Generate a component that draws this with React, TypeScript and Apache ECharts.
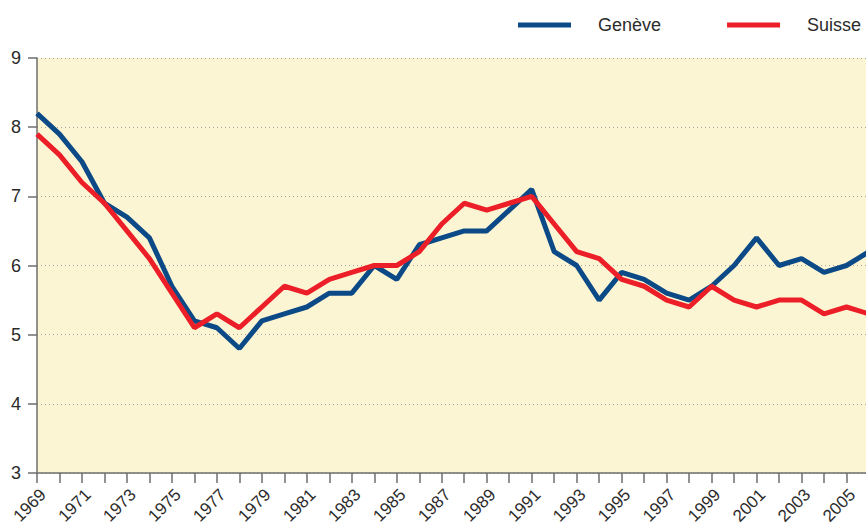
import React, { useEffect, useRef } from "react";
import * as echarts from "echarts";

const years: string[] = [];
for (let y = 1969; y <= 2006; y++) years.push(String(y));

const geneve = [
  8.2, 7.9, 7.5, 6.9, 6.7, 6.4, 5.7, 5.2, 5.1, 4.8,
  5.2, 5.3, 5.4, 5.6, 5.6, 6.0, 5.8, 6.3, 6.4, 6.5,
  6.5, 6.8, 7.1, 6.2, 6.0, 5.5, 5.9, 5.8, 5.6, 5.5,
  5.7, 6.0, 6.4, 6.0, 6.1, 5.9, 6.0, 6.2,
];
const suisse = [
  7.9, 7.6, 7.2, 6.9, 6.5, 6.1, 5.6, 5.1, 5.3, 5.1,
  5.4, 5.7, 5.6, 5.8, 5.9, 6.0, 6.0, 6.2, 6.6, 6.9,
  6.8, 6.9, 7.0, 6.6, 6.2, 6.1, 5.8, 5.7, 5.5, 5.4,
  5.7, 5.5, 5.4, 5.5, 5.5, 5.3, 5.4, 5.3,
];
const seriesNames = ["Genève", "Suisse"];
const colors = ["#0b4a87", "#ec1f28"];

const FONT = "'Liberation Sans', Arial, sans-serif";

export default function App() {
  const ref = useRef<HTMLDivElement>(null);
  useEffect(() => {
    if (!ref.current) return;
    const chart = echarts.init(ref.current, undefined, { renderer: "svg" });
    chart.setOption({
      animation: false,
      backgroundColor: "#ffffff",
      textStyle: { fontFamily: FONT },
      legend: {
        left: 518,
        top: 16,
        width: 400,
        padding: 0,
        orient: "horizontal",
        itemWidth: 53,
        itemHeight: 5,
        itemGap: 66,
        icon: "rect",
        data: seriesNames,
        textStyle: {
          fontFamily: FONT,
          fontSize: 18,
          color: "#2b2b2b",
          padding: [0, 0, 0, 22],
        },
      },
      grid: {
        left: 37,
        right: -3,
        top: 58,
        bottom: 56,
        containLabel: false,
        outerBoundsMode: "none",
      },
      xAxis: {
        type: "category",
        data: years,
        boundaryGap: false,
        axisLine: { lineStyle: { color: "#6e6e6e", width: 1.5 } },
        axisTick: {
          alignWithLabel: true,
          interval: 0,
          length: 10,
          lineStyle: { color: "#6e6e6e", width: 1.5 },
        },
        axisLabel: {
          interval: 1,
          rotate: 45,
          fontSize: 17,
          color: "#2b2b2b",
          fontFamily: FONT,
          margin: 13,
          verticalAlign: "top",
        },
        splitLine: { show: false },
      },
      yAxis: {
        type: "value",
        min: 3,
        max: 9,
        interval: 1,
        axisLine: { show: true, lineStyle: { color: "#6e6e6e", width: 1.5 } },
        axisTick: {
          show: true,
          inside: false,
          length: 9,
          lineStyle: { color: "#6e6e6e", width: 1.5 },
        },
        axisLabel: {
          fontSize: 18,
          color: "#2b2b2b",
          fontFamily: FONT,
          margin: 16,
        },
        splitLine: {
          show: true,
          lineStyle: { color: "#a9a38c", type: [1, 3], width: 1 },
        },
        splitArea: {
          show: true,
          areaStyle: { color: ["#fcf5d3", "#fcf5d3"] },
        },
      },
      series: [
        {
          name: seriesNames[0],
          type: "line",
          data: geneve,
          symbol: "none",
          lineStyle: { color: colors[0], width: 5 },
          itemStyle: { color: colors[0] },
        },
        {
          name: seriesNames[1],
          type: "line",
          data: suisse,
          symbol: "none",
          lineStyle: { color: colors[1], width: 5 },
          itemStyle: { color: colors[1] },
        },
      ],
    });
    return () => chart.dispose();
  }, []);
  return (
    <div
      ref={ref}
      style={{ position: "fixed", left: 0, top: 0, width: 866, height: 529 }}
    />
  );
}
